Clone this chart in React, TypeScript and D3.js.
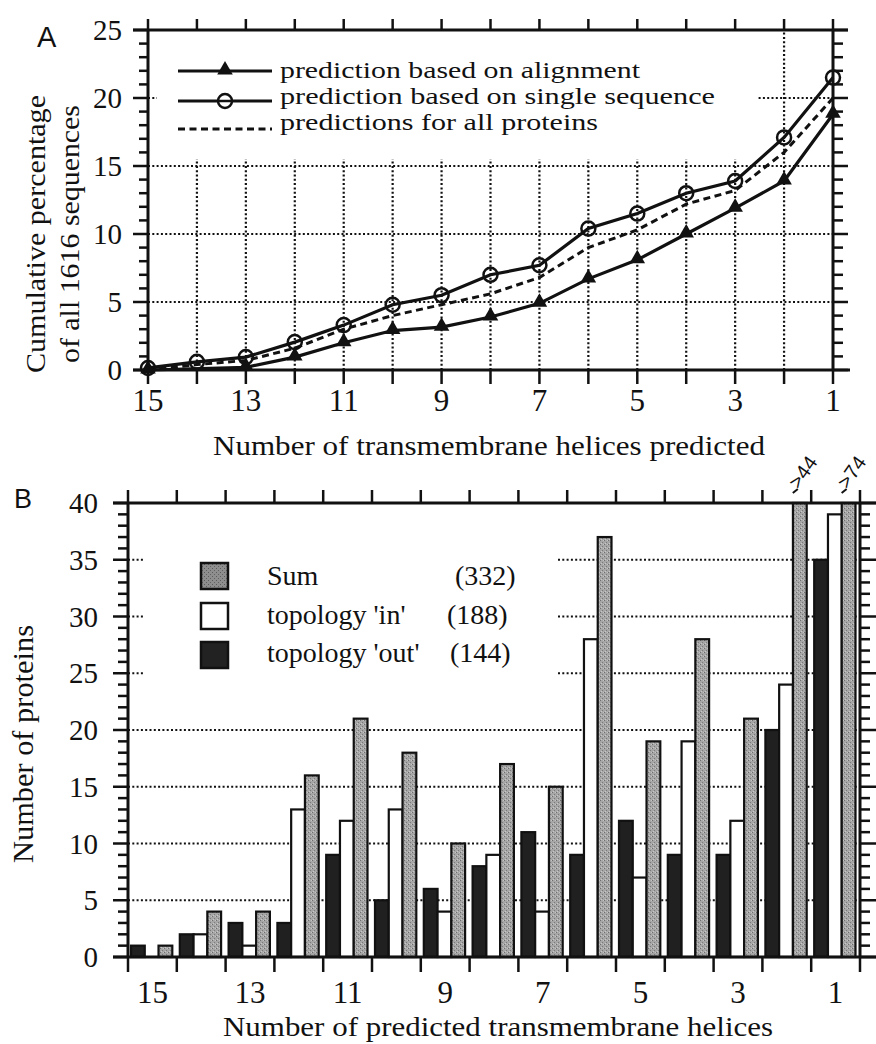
import React from "react";
import * as d3 from "d3";

// ---------- Data ----------
const helixCounts = [15, 14, 13, 12, 11, 10, 9, 8, 7, 6, 5, 4, 3, 2, 1];
const oddLabels = [15, 13, 11, 9, 7, 5, 3, 1];

// Panel A: cumulative percentage of all 1616 sequences
const alignmentPct: (number | null)[] = [0, null, 0.2, 0.95, 2.0, 2.9, 3.15, 3.9, 4.9, 6.7, 8.1, 10.0, 11.9, 13.9, 18.8];
const singleSeqPct = [0.15, 0.6, 0.95, 2.05, 3.3, 4.8, 5.5, 7.0, 7.7, 10.4, 11.5, 13.0, 13.9, 17.1, 21.5];
const allProteinsPct = [0, 0.4, 0.7, 1.6, 3.0, 4.0, 4.8, 5.6, 6.8, 9.0, 10.3, 12.2, 13.2, 16.0, 20.0];
const yTicksA = [0, 5, 10, 15, 20, 25];
const legendA = [
  "prediction based on alignment",
  "prediction based on single sequence",
  "predictions for all proteins",
];

// Panel B: number of proteins
const topoOut = [1, 2, 3, 3, 9, 5, 6, 8, 11, 9, 12, 9, 9, 20, 35];
const topoIn = [0, 2, 1, 13, 12, 13, 4, 9, 4, 28, 7, 19, 12, 24, 39];
const sumAll = [1, 4, 4, 16, 21, 18, 10, 17, 15, 37, 19, 28, 21, 44, 74];
const yTicksB = [0, 5, 10, 15, 20, 25, 30, 35, 40];
const legendBLabels = ["Sum", "topology 'in'", "topology 'out'"];
const legendBCounts = ["(332)", "(188)", "(144)"];
const truncatedLabels = [
  { h: 2, label: ">44" },
  { h: 1, label: ">74" },
];

const DOT = "2 2.3";

const serif = (size: number): React.CSSProperties => ({ fontFamily: "Liberation Serif", fontSize: size });
const sans = (size: number): React.CSSProperties => ({ fontFamily: "Liberation Sans", fontSize: size });

export default function App() {
  // ---------- Panel A scales ----------
  const xA = d3.scaleLinear().domain([15, 1]).range([148, 833]);
  const yA = d3.scaleLinear().domain([0, 25]).range([370, 30]);
  const lineA = d3
    .line<[number, number]>()
    .x((d) => xA(d[0]))
    .y((d) => yA(d[1]));
  const ptsAlign = helixCounts
    .map((h, i) => [h, alignmentPct[i]] as [number, number | null])
    .filter((d) => d[1] != null) as [number, number][];
  const ptsSingle = helixCounts.map((h, i) => [h, singleSeqPct[i]] as [number, number]);
  const ptsAll = helixCounts.map((h, i) => [h, allProteinsPct[i]] as [number, number]);
  const tri = d3.symbol().type(d3.symbolTriangle).size(105)() as string;

  // ---------- Panel B scales ----------
  const xB = d3.scaleBand<number>().domain(helixCounts).range([128, 860]);
  const bw = xB.bandwidth();
  const xSub = d3.scaleBand<string>().domain(["out", "in", "sum"]).range([3, bw - 4.5]);
  const yB = d3.scaleLinear().domain([0, 40]).range([957, 503]);
  const boundaries = helixCounts.map((h) => xB(h) as number).concat([xB.range()[1]]);

  const barSeries = [
    { key: "out", values: topoOut, fill: "#202020" },
    { key: "in", values: topoIn, fill: "#ffffff" },
    { key: "sum", values: sumAll, fill: "url(#stipple)" },
  ];

  return (
    <svg
      width={876}
      height={1044}
      viewBox="0 0 876 1044"
      style={{ position: "absolute", left: 0, top: 0, display: "block", background: "#fff" }}
    >
      <defs>
        <pattern id="stipple" width="4" height="4" patternUnits="userSpaceOnUse">
          <rect width="4" height="4" fill="#a6a6a6" />
          <rect x="0" y="0" width="1" height="1" fill="#6e6e6e" />
          <rect x="2" y="2" width="1" height="1" fill="#7a7a7a" />
          <rect x="3" y="0" width="1" height="1" fill="#c4c4c4" />
          <rect x="1" y="3" width="1" height="1" fill="#c8c8c8" />
        </pattern>
        <pattern id="stippleDark" width="4" height="4" patternUnits="userSpaceOnUse">
          <rect width="4" height="4" fill="#8e8e8e" />
          <rect x="0" y="0" width="1" height="1" fill="#5a5a5a" />
          <rect x="2" y="2" width="1" height="1" fill="#606060" />
        </pattern>
      </defs>
      <rect x={0} y={0} width={876} height={1044} fill="#fff" />

      {/* ================= PANEL A ================= */}
      <g>
        {[5, 10, 15, 20].map((v) => (
          <line key={"ha" + v} x1={xA(15)} x2={xA(1)} y1={yA(v)} y2={yA(v)} stroke="#111" strokeWidth={2.2} strokeDasharray={DOT} />
        ))}
        {helixCounts.slice(1, -1).map((h) => (
          <line key={"va" + h} x1={xA(h)} x2={xA(h)} y1={yA(0)} y2={yA(25)} stroke="#111" strokeWidth={2.2} strokeDasharray={DOT} />
        ))}
        <rect x={157} y={32} width={600} height={127} fill="#fff" />

        {/* legend */}
        <line x1={178} x2={272} y1={71} y2={71} stroke="#111" strokeWidth={3} />
        <path d={tri} transform={`translate(225,70)`} fill="#111" />
        <line x1={178} x2={272} y1={101} y2={101} stroke="#111" strokeWidth={3} />
        <circle cx={225} cy={101} r={7} fill="#fff" stroke="#111" strokeWidth={2.5} />
        <line x1={225 - 7} x2={225 + 7} y1={101} y2={101} stroke="#111" strokeWidth={2.5} />
        <line x1={178} x2={272} y1={129} y2={129} stroke="#111" strokeWidth={3} strokeDasharray="7 4.5" />
        {legendA.map((t, i) => (
          <text
            key={t}
            x={280}
            y={[78, 104, 130][i]}
            style={serif(23)}
            fill="#111"
            textLength={[360, 435, 318][i]}
            lengthAdjust="spacingAndGlyphs"
          >
            {t}
          </text>
        ))}

        {/* axes frame */}
        <line x1={148} x2={148} y1={29} y2={371} stroke="#111" strokeWidth={3} />
        <line x1={833} x2={833} y1={29} y2={371} stroke="#111" strokeWidth={3} />
        <line x1={133} x2={848} y1={30} y2={30} stroke="#111" strokeWidth={3} />
        <line x1={133} x2={850} y1={370} y2={370} stroke="#111" strokeWidth={3} />
        {d3.range(0, 26).map((v) => (
          <g key={"lt" + v}>
            <line x1={v % 5 === 0 ? 133 : 139} x2={148} y1={yA(v)} y2={yA(v)} stroke="#111" strokeWidth={2.5} />
            <line x1={833} x2={v % 5 === 0 ? 848 : 843} y1={yA(v)} y2={yA(v)} stroke="#111" strokeWidth={2.5} />
          </g>
        ))}
        {helixCounts.map((h) => (
          <g key={"tb" + h}>
            <line x1={xA(h)} x2={xA(h)} y1={30} y2={19} stroke="#111" strokeWidth={2.5} />
            <line x1={xA(h)} x2={xA(h)} y1={370} y2={384} stroke="#111" strokeWidth={2.5} />
          </g>
        ))}
        {yTicksA.map((v) => (
          <text key={"yla" + v} x={122} y={yA(v)} dy="0.35em" textAnchor="end" style={serif(29)} fill="#111">
            {v}
          </text>
        ))}
        {oddLabels.map((h) => (
          <text key={"xla" + h} x={xA(h)} y={411} textAnchor="middle" style={serif(31)} fill="#111">
            {h}
          </text>
        ))}

        {/* data lines */}
        <path d={lineA(ptsAll) as string} fill="none" stroke="#111" strokeWidth={3} strokeDasharray="7 4.5" />
        <path d={lineA(ptsAlign) as string} fill="none" stroke="#111" strokeWidth={3.2} />
        <path d={lineA(ptsSingle) as string} fill="none" stroke="#111" strokeWidth={3.2} />
        {ptsAlign.map((d) => (
          <path key={"tri" + d[0]} d={tri} transform={`translate(${xA(d[0])},${yA(d[1]) - 1})`} fill="#111" />
        ))}
        {ptsSingle.map((d) => (
          <circle key={"cir" + d[0]} cx={xA(d[0])} cy={yA(d[1])} r={7} fill="none" stroke="#111" strokeWidth={2.5} />
        ))}

        {/* labels */}
        <text x={37} y={47} style={sans(29)} fill="#111">A</text>
        <text
          transform={`translate(45,234) rotate(-90)`}
          textAnchor="middle"
          style={serif(28)}
          fill="#111"
          textLength={278}
          lengthAdjust="spacingAndGlyphs"
        >
          Cumulative percentage
        </text>
        <text
          transform={`translate(79,234) rotate(-90)`}
          textAnchor="middle"
          style={serif(28)}
          fill="#111"
          textLength={258}
          lengthAdjust="spacingAndGlyphs"
        >
          of all 1616 sequences
        </text>
        <text
          x={489}
          y={455}
          textAnchor="middle"
          style={serif(28)}
          fill="#111"
          textLength={552}
          lengthAdjust="spacingAndGlyphs"
        >
          Number of transmembrane helices predicted
        </text>
      </g>

      {/* ================= PANEL B ================= */}
      <g>
        {[5, 10, 15, 20, 25, 30, 35].map((v) => (
          <line key={"hb" + v} x1={128} x2={860} y1={yB(v)} y2={yB(v)} stroke="#111" strokeWidth={2.2} strokeDasharray={DOT} />
        ))}
        <rect x={143} y={507} width={413} height={183} fill="#fff" />

        {/* bars */}
        {barSeries.map((s) =>
          helixCounts.map((h, i) => {
            const v = s.values[i];
            if (!v) return null;
            const y = yB(Math.min(v, 40));
            return (
              <rect
                key={s.key + h}
                x={(xB(h) as number) + (xSub(s.key) as number)}
                y={y}
                width={xSub.bandwidth()}
                height={yB(0) - y}
                fill={s.fill}
                stroke="#111"
                strokeWidth={2.2}
              />
            );
          })
        )}

        {/* legend */}
        {["url(#stippleDark)", "#ffffff", "#222"].map((f, i) => (
          <rect key={"lb" + i} x={201} y={[563, 603, 642][i]} width={27} height={26} fill={f} stroke="#111" strokeWidth={2.5} />
        ))}
        {legendBLabels.map((t, i) => (
          <text key={t} x={267} y={[585, 624, 662][i]} style={serif(28)} fill="#111">
            {t}
          </text>
        ))}
        {legendBCounts.map((t, i) => (
          <text key={t} x={[455, 447, 450][i]} y={[585, 624, 662][i]} style={serif(28)} fill="#111">
            {t}
          </text>
        ))}

        {/* axes frame */}
        <line x1={128} x2={128} y1={502} y2={958} stroke="#111" strokeWidth={3} />
        <line x1={860} x2={860} y1={502} y2={958} stroke="#111" strokeWidth={3} />
        <line x1={113} x2={876} y1={503} y2={503} stroke="#111" strokeWidth={3} />
        <line x1={113} x2={876} y1={957} y2={957} stroke="#111" strokeWidth={3} />
        {d3.range(0, 41).map((v) => (
          <g key={"ltb" + v}>
            <line x1={v % 5 === 0 ? 113 : 118} x2={128} y1={yB(v)} y2={yB(v)} stroke="#111" strokeWidth={2.5} />
            <line x1={860} x2={v % 5 === 0 ? 876 : 870} y1={yB(v)} y2={yB(v)} stroke="#111" strokeWidth={2.5} />
          </g>
        ))}
        {boundaries.map((bx, i) => (
          <g key={"tbb" + i}>
            <line x1={bx} x2={bx} y1={503} y2={490} stroke="#111" strokeWidth={2.5} />
            <line x1={bx} x2={bx} y1={957} y2={972} stroke="#111" strokeWidth={2.5} />
          </g>
        ))}
        {yTicksB.map((v) => (
          <text key={"ylb" + v} x={98} y={yB(v)} dy="0.35em" textAnchor="end" style={serif(29)} fill="#111">
            {v}
          </text>
        ))}
        {oddLabels.map((h) => (
          <text key={"xlb" + h} x={(xB(h) as number) + bw / 2} y={1003} textAnchor="middle" style={serif(31)} fill="#111">
            {h}
          </text>
        ))}

        {/* truncated bars annotations */}
        {truncatedLabels.map((a) => {
          const cx = (xB(a.h) as number) + (xSub("sum") as number) + xSub.bandwidth() / 2;
          return (
            <g key={a.label}>
              <line x1={cx - 7} y1={493} x2={cx - 2} y2={489} stroke="#111" strokeWidth={2} />
              <text transform={`translate(${cx - 1},${490}) rotate(-55)`} style={sans(20)} fill="#111">
                {a.label}
              </text>
            </g>
          );
        })}

        {/* labels */}
        <text x={14} y={508} style={sans(27)} fill="#111">B</text>
        <text
          transform={`translate(33,744) rotate(-90)`}
          textAnchor="middle"
          style={serif(29)}
          fill="#111"
          textLength={238}
          lengthAdjust="spacingAndGlyphs"
        >
          Number of proteins
        </text>
        <text
          x={498}
          y={1036}
          textAnchor="middle"
          style={serif(28)}
          fill="#111"
          textLength={550}
          lengthAdjust="spacingAndGlyphs"
        >
          Number of predicted transmembrane helices
        </text>
      </g>
    </svg>
  );
}
